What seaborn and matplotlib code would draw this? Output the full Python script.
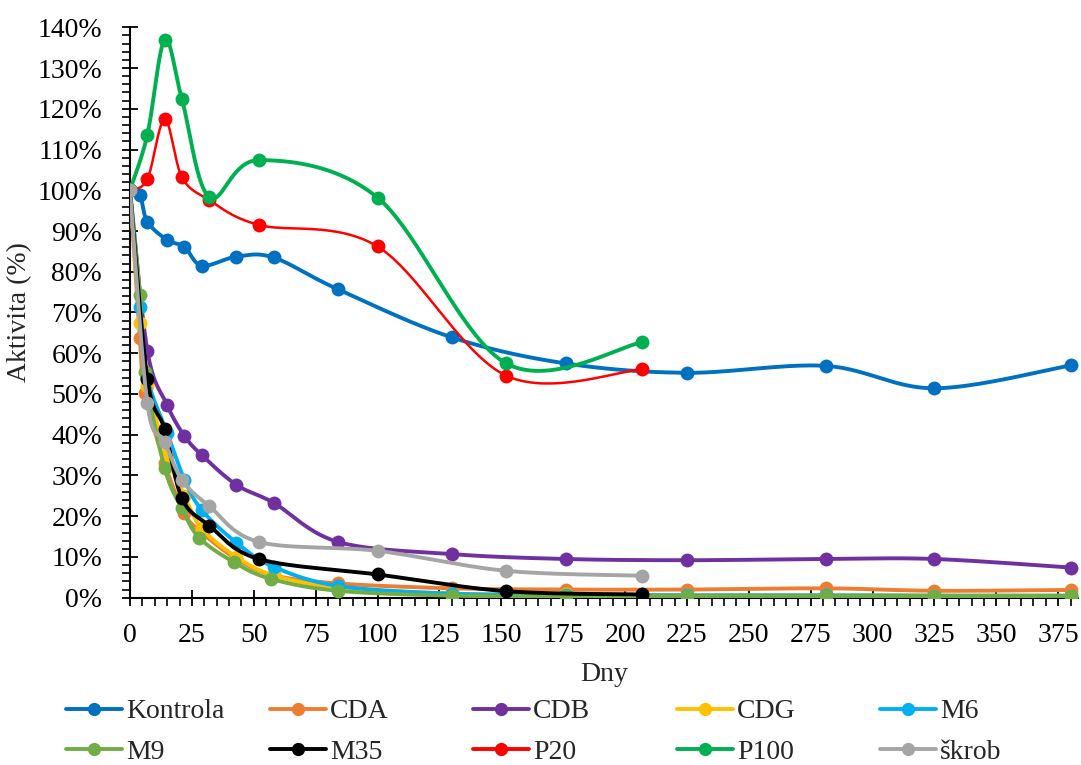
import numpy as np
import pandas as pd
import matplotlib
matplotlib.use("Agg")
import matplotlib.pyplot as plt
import seaborn as sns
from matplotlib.lines import Line2D
from matplotlib.ticker import MultipleLocator, PercentFormatter

# ---------------- data ----------------
names = ["Kontrola", "CDA", "CDB", "CDG", "M6", "M9", "M35", "P20", "P100", "škrob"]
colors = ["#0070C0", "#ED7D31", "#7030A0", "#FFC000", "#00B0F0",
          "#70AD47", "#000000", "#FF0000", "#00B050", "#A5A5A5"]

kontrola_x = [0, 4, 7, 15, 22, 29, 43, 58, 84, 130, 176, 225, 281, 325, 380]
kontrola_y = [100, 98.8, 92.3, 87.8, 86.1, 81.5, 83.7, 83.5, 75.7, 63.9, 57.5, 55.2, 56.9, 51.4, 57.0]

cda_x = [0, 4, 6, 14, 22, 29, 43, 58, 84, 130, 176, 225, 281, 325, 380]
cda_y = [100, 63.8, 50.2, 33.0, 20.7, 16.0, 9.5, 5.5, 3.5, 2.3, 2.0, 2.0, 2.3, 1.7, 1.9]

cdb_x = [0, 7, 15, 22, 29, 43, 58, 84, 130, 176, 225, 281, 325, 380]
cdb_y = [100, 60.6, 47.3, 39.7, 35.0, 27.7, 23.3, 13.7, 10.7, 9.5, 9.2, 9.5, 9.5, 7.4]

cdg_x = [0, 4, 7, 15, 22, 29, 43, 58, 84, 130, 176, 225, 281, 325, 380]
cdg_y = [100, 67.4, 52.0, 35.0, 25.0, 17.0, 10.0, 5.5, 2.5, 1.0, 0.8, 0.6, 0.6, 0.5, 0.5]

m6_x = [0, 4, 7, 15, 22, 29, 43, 58, 84, 130, 176, 225, 281, 325, 380]
m6_y = [100, 71.3, 54.0, 40.5, 29.0, 21.5, 13.5, 7.6, 2.9, 1.0, 0.7, 0.6, 0.6, 0.5, 0.5]

m9_x = [0, 4, 6, 14, 21, 28, 42, 57, 84, 130, 176, 225, 281, 325, 380]
m9_y = [100, 74.3, 55.5, 31.8, 21.9, 14.7, 8.7, 4.6, 1.7, 0.5, 0.4, 0.4, 0.4, 0.4, 0.4]

m35_x = [0, 7, 14, 21, 32, 52, 100, 152, 207]
m35_y = [100, 53.8, 41.3, 24.4, 17.7, 9.5, 5.7, 1.6, 0.8]

p20_x = [0, 7, 14, 21, 32, 52, 100, 152, 207]
p20_y = [100, 102.7, 117.4, 103.2, 97.6, 91.5, 86.2, 54.5, 56.1]

p100_x = [0, 7, 14, 21, 32, 52, 100, 152, 207]
p100_y = [100, 113.6, 136.9, 122.3, 98.3, 107.4, 98.2, 57.5, 62.7]

skrob_x = [0, 7, 14, 21, 32, 52, 100, 152, 207]
skrob_y = [100, 47.7, 38.3, 28.9, 22.5, 13.7, 11.5, 6.6, 5.4]

xs = [kontrola_x, cda_x, cdb_x, cdg_x, m6_x, m9_x, m35_x, p20_x, p100_x, skrob_x]
ys = [kontrola_y, cda_y, cdb_y, cdg_y, m6_y, m9_y, m35_y, p20_y, p100_y, skrob_y]

x_ticks = list(range(0, 376, 25))
y_ticks = list(range(0, 141, 10))


def smooth(x, y, n=40):
    """Excel-like smoothed line: cubic Bezier with Catmull-Rom control points."""
    pts = np.column_stack([np.asarray(x, float), np.asarray(y, float)])
    out = [pts[0]]
    t = np.linspace(0, 1, n)[1:]
    for i in range(len(pts) - 1):
        p0 = pts[i - 1] if i > 0 else pts[i]
        p1, p2 = pts[i], pts[i + 1]
        p3 = pts[i + 2] if i + 2 < len(pts) else pts[i + 1]
        c1 = p1 + (p2 - p0) / 6.0
        c2 = p2 - (p3 - p1) / 6.0
        seg = (((1 - t) ** 3)[:, None] * p1 + (3 * (1 - t) ** 2 * t)[:, None] * c1
               + (3 * (1 - t) * t ** 2)[:, None] * c2 + (t ** 3)[:, None] * p2)
        out.extend(seg)
    return np.array(out)


# ---------------- style ----------------
sns.set_style("ticks")
plt.rcParams["font.family"] = ["Liberation Serif", "DejaVu Serif"]
FS = 20

fig = plt.figure(figsize=(10.81, 7.65), dpi=100)
ax = fig.add_axes([130 / 1081, 1 - 597.7 / 765, (1078 - 130) / 1081, (597.7 - 27.3) / 765])

for i, (nm, c, x, y) in enumerate(zip(names, colors, xs, ys)):
    lw = 1.8 if nm == "P20" else 2.8
    curve = smooth(x, y)
    df = pd.DataFrame({"x": curve[:, 0], "y": curve[:, 1]})
    sns.lineplot(data=df, x="x", y="y", sort=False, estimator=None, color=c,
                 lw=lw, ax=ax, legend=False, zorder=3 + i)
    sns.scatterplot(x=x, y=y, color=c, s=100, linewidth=0, ax=ax, legend=False,
                    zorder=3.5 + i)

ax.set_xlim(0, 383)
ax.set_ylim(0, 140)
ax.set_xticks(x_ticks)
ax.set_yticks(y_ticks)
ax.xaxis.set_minor_locator(MultipleLocator(5))
ax.yaxis.set_minor_locator(MultipleLocator(2))
ax.yaxis.set_major_formatter(PercentFormatter(decimals=0))

for s in ["top", "right"]:
    ax.spines[s].set_visible(False)
for s in ["left", "bottom"]:
    ax.spines[s].set_linewidth(1.5)
    ax.spines[s].set_color("black")

ax.tick_params(axis="both", which="major", direction="inout", length=12, width=1.3,
               labelsize=FS, colors="black")
ax.tick_params(axis="y", which="major", pad=14)
ax.tick_params(axis="x", which="major", pad=12)
ax.tick_params(axis="both", which="minor", direction="out", length=6, width=1.2,
               colors="black")

ax.set_xlabel("Dny", fontsize=FS, labelpad=10)
ax.set_ylabel("Aktivita (%)", fontsize=FS, labelpad=4)

# legend: equal-width columns like the original (one legend per column)
col_x = [66, 270, 473, 677, 880]
for j in range(5):
    hs, ls = [], []
    for r in range(2):
        k = r * 5 + j
        hs.append(Line2D([], [], color=colors[k], lw=2.8, marker="o", markersize=8.5))
        ls.append(names[k])
    fig.legend(hs, ls, loc="upper left", bbox_to_anchor=(col_x[j] / 1081, 1 - 699 / 765),
               frameon=False, fontsize=FS, handlelength=2.0, handletextpad=0.15,
               borderpad=0, borderaxespad=0, labelspacing=0.55)

fig.savefig("out.png", dpi=100)
